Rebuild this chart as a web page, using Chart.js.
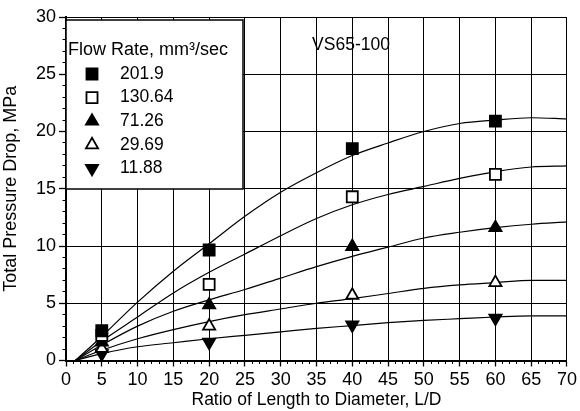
<!DOCTYPE html>
<html>
<head>
<meta charset="utf-8">
<script src="https://cdn.jsdelivr.net/npm/chart.js@4.4.1/dist/chart.umd.min.js"></script>
<style>
  html, body { margin: 0; padding: 0; background: #fff; }
  #wrap { width: 580px; height: 411px; }
</style>
</head>
<body>
<div id="wrap"><canvas id="chart" width="580" height="411"></canvas></div>
<script>
// measured points
const lengthRatio = [5, 20, 40, 60];
const flowRates = ['201.9', '130.64', '71.26', '29.69', '11.88'];
const drop201 = [2.6, 9.65, 18.5, 20.9];
const drop130 = [2.2, 6.65, 14.3, 16.25];
const drop71 = [1.6, 4.85, 9.95, 11.6];
const drop29 = [1.05, 3.0, 5.7, 6.8];
const drop11 = [0.6, 1.6, 3.1, 3.7];

// fitted curves
const fitX = [1.3, 5, 10, 15, 20, 25, 30, 35, 40, 45, 50, 55, 60, 65, 70];
const fit201 = [0, 2.1, 5.1, 7.8, 10.2, 12.6, 14.7, 16.4, 17.9, 19.0, 20.0, 20.7, 21.0, 21.2, 21.1];
const fit130 = [0, 1.7, 3.8, 5.9, 7.7, 9.3, 10.9, 12.4, 13.6, 14.5, 15.2, 15.9, 16.5, 16.9, 17.0];
const fit71 = [0, 1.35, 3.0, 4.3, 5.3, 6.2, 7.2, 8.2, 9.1, 9.9, 10.7, 11.2, 11.6, 11.9, 12.1];
const fit29 = [0, 0.9, 1.9, 2.7, 3.4, 4.0, 4.5, 5.0, 5.4, 5.85, 6.3, 6.6, 6.8, 7.0, 7.0];
const fit11 = [0, 0.6, 1.2, 1.55, 1.9, 2.2, 2.5, 2.8, 3.05, 3.3, 3.5, 3.65, 3.8, 3.9, 3.9];

// axis ranges: [min, max, major step, minor step]
const xTicks = [0, 70, 5, 1];
const yTicks = [0, 30, 5, 1];

const FONT = "'Liberation Sans', Arial, sans-serif";

const markers = [
  { style: 'rect', fill: '#000', radius: 7.8, rotation: 0 },
  { style: 'rect', fill: '#fff', radius: 7.8, rotation: 0 },
  { style: 'triangle', fill: '#000', radius: 7, rotation: 0 },
  { style: 'triangle', fill: '#fff', radius: 7, rotation: 0 },
  { style: 'triangle', fill: '#000', radius: 7, rotation: 180 }
];
const drops = [drop201, drop130, drop71, drop29, drop11];
const fits = [fit201, fit130, fit71, fit29, fit11];

const datasets = [];
drops.forEach((vals, i) => {
  const m = markers[i];
  datasets.push({
    label: flowRates[i],
    data: lengthRatio.map((x, j) => ({ x, y: vals[j] })),
    showLine: false,
    pointStyle: m.style,
    pointRotation: m.rotation,
    pointRadius: m.radius,
    pointBackgroundColor: m.fill,
    pointBorderColor: '#000',
    pointBorderWidth: 1.8,
    order: 0
  });
});
fits.forEach((vals, i) => {
  datasets.push({
    label: 'fit ' + flowRates[i],
    data: fitX.map((x, j) => ({ x, y: vals[j] })),
    showLine: true,
    borderColor: '#000',
    borderWidth: 1.2,
    pointRadius: 0,
    cubicInterpolationMode: 'monotone',
    order: 1
  });
});

function drawMarker(ctx, m, x, y) {
  ctx.save();
  ctx.fillStyle = m.fill;
  ctx.strokeStyle = '#000';
  ctx.lineWidth = 1.8;
  ctx.beginPath();
  if (m.style === 'rect') {
    const s = Math.SQRT1_2 * m.radius;
    ctx.rect(x - s, y - s, 2 * s, 2 * s);
  } else {
    let rad = m.rotation * Math.PI / 180;
    const r = m.radius;
    ctx.moveTo(x + Math.sin(rad) * r, y - Math.cos(rad) * r);
    rad += 2 * Math.PI / 3;
    ctx.lineTo(x + Math.sin(rad) * r, y - Math.cos(rad) * r);
    rad += 2 * Math.PI / 3;
    ctx.lineTo(x + Math.sin(rad) * r, y - Math.cos(rad) * r);
    ctx.closePath();
  }
  ctx.fill();
  ctx.stroke();
  ctx.restore();
}

// legend box and sample label inside the plot
const boxPlugin = {
  id: 'flowBox',
  afterDraw(chart) {
    const ctx = chart.ctx;
    ctx.save();
    ctx.fillStyle = '#fff';
    ctx.fillRect(66, 20, 177, 169);
    ctx.strokeStyle = '#000';
    ctx.lineWidth = 1.5;
    ctx.strokeRect(66, 20, 177, 169);
    ctx.fillStyle = '#000';
    ctx.font = '18px ' + FONT;
    ctx.textBaseline = 'middle';
    ctx.textAlign = 'left';
    ctx.fillText('Flow Rate, mm³/sec', 68, 50);
    ctx.font = '17.5px ' + FONT;
    flowRates.forEach((r, i) => {
      const y = 74 + i * 23.6;
      drawMarker(ctx, markers[i], 92, y);
      ctx.fillStyle = '#000';
      ctx.fillText(r, 120, y);
    });
    ctx.textAlign = 'center';
    ctx.fillText('VS65-100', 351, 45);
    ctx.restore();
  }
};

// hidden axes that only carry the short minor tick marks
const minorAxis = (pos, range) => ({
  type: 'linear',
  position: pos,
  min: range[0],
  max: range[1],
  weight: 0,
  afterFit: (s) => { if (pos === 'left') s.width = 0; else s.height = 0; },
  ticks: { display: false, stepSize: range[3], autoSkip: false },
  grid: { drawOnChartArea: false, tickLength: 3.5, tickColor: '#000', tickWidth: 1 },
  border: { display: false }
});

new Chart(document.getElementById('chart'), {
  type: 'scatter',
  data: { datasets },
  options: {
    responsive: false,
    devicePixelRatio: 1,
    animation: false,
    layout: { padding: { top: 17, right: 12, left: 0, bottom: 0 } },
    plugins: { legend: { display: false }, tooltip: { enabled: false } },
    scales: {
      x: {
        type: 'linear',
        position: 'bottom',
        weight: 1,
        min: xTicks[0],
        max: xTicks[1],
        afterFit: (s) => { s.height = 50.5; },
        ticks: {
          stepSize: xTicks[2],
          autoSkip: false,
          maxRotation: 0,
          padding: 3,
          color: '#000',
          font: { family: FONT, size: 18 }
        },
        grid: { color: '#000', lineWidth: 1, tickColor: '#000', tickLength: 6, tickWidth: 1.3 },
        border: { display: true, color: '#000', width: 2 },
        title: {
          display: true,
          text: 'Ratio of Length to Diameter, L/D',
          color: '#000',
          font: { family: FONT, size: 17.5 },
          padding: { top: 0, bottom: 0 }
        }
      },
      xMinor: minorAxis('bottom', xTicks),
      y: {
        type: 'linear',
        position: 'left',
        weight: 1,
        min: yTicks[0],
        max: yTicks[1],
        afterFit: (s) => { s.width = 66; },
        ticks: {
          stepSize: yTicks[2],
          autoSkip: false,
          padding: 3,
          color: '#000',
          font: { family: FONT, size: 18 }
        },
        grid: { color: '#000', lineWidth: 1, tickColor: '#000', tickLength: 7, tickWidth: 1.3 },
        border: { display: true, color: '#000', width: 2 },
        title: {
          display: true,
          text: 'Total Pressure Drop, MPa',
          color: '#000',
          font: { family: FONT, size: 18 },
          padding: { top: 0, bottom: 6 }
        }
      },
      yMinor: minorAxis('left', yTicks)
    }
  },
  plugins: [boxPlugin]
});
</script>
</body>
</html>
